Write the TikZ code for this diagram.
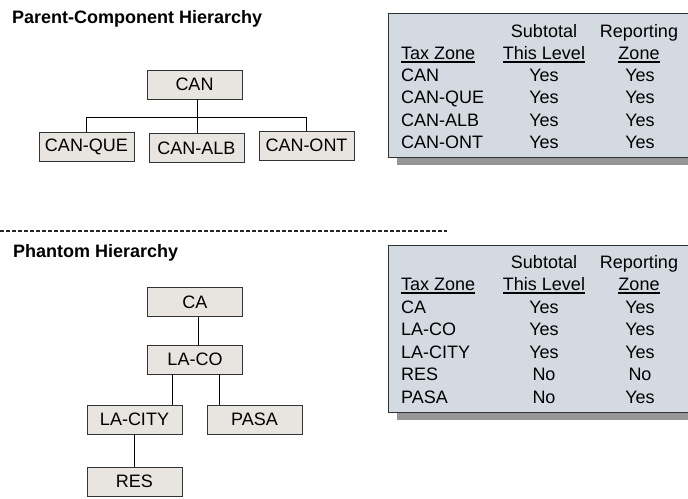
\documentclass[tikz,border=0pt]{standalone}
\usepackage{fontspec}
\setmainfont{Liberation Sans}
\definecolor{boxfill}{RGB}{232,228,223}
\definecolor{tabfill}{RGB}{211,218,226}
\definecolor{shadowgray}{RGB}{150,150,150}
\tikzset{
  zonebox/.style={draw=black!80, line width=0.9pt, fill=boxfill, minimum width=95pt, minimum height=29pt, inner sep=0pt, font=\fontsize{18}{21}\selectfont},
  link/.style={draw=black, line width=0.9pt},
  title/.style={anchor=base west, inner sep=0pt, font=\fontsize{18}{21}\selectfont\bfseries},
  tabtext/.style={inner sep=0pt, font=\fontsize{18}{21}\selectfont},
  tabbox/.style={draw=black!80, line width=0.9pt, fill=tabfill},
  tabshadow/.style={fill=shadowgray},
  ul/.style={line width=1.2pt}
}
\begin{document}
\begin{tikzpicture}[x=1pt,y=-1pt]
\path[use as bounding box] (0,0) rectangle (688,498);
\clip (0,0) rectangle (688,498);
% titles
\node[title] (t1) at (12,23) {Parent-Component Hierarchy};
\node[title] (t2) at (13,257) {Phantom Hierarchy};
% dashed separator
\coordinate (dl) at (0,231);
\coordinate (dr) at (447,231);
\draw[line width=1.2pt, dash pattern=on 4pt off 2pt, black!85] (dl) -- (dr);
% parent-component tree
\node[zonebox] (can) at (194.5,84.5) {CAN};
\node[zonebox] (que) at (86.5,146.5) {CAN-QUE};
\node[zonebox] (alb) at (196.5,148) {CAN-ALB};
\node[zonebox] (ont) at (306.5,145.5) {CAN-ONT};
\coordinate (j) at (197,117);
\draw[link] (can.south -| j) -- (j);
\draw[link] (j) -| (que.north);
\draw[link] (j) -| (ont.north);
\draw[link] (j) -- (j |- alb.north);
% phantom tree
\node[zonebox] (ca) at (195,302) {CA};
\node[zonebox] (laco) at (195,359.5) {LA-CO};
\node[zonebox] (lacity) at (134.5,419.5) {LA-CITY};
\node[zonebox] (pasa) at (254.5,419.5) {PASA};
\node[zonebox] (res) at (134.5,481.5) {RES};
\draw[link] ([xshift=3pt]ca.south) -- ([xshift=3pt]ca.south |- laco.north);
\draw[link] ([xshift=-23pt]laco.south) -- ([xshift=-23pt]laco.south |- lacity.north);
\draw[link] ([xshift=24pt]laco.south) -- ([xshift=24pt]laco.south |- pasa.north);
\draw[link] (lacity.south) -- (res.north);
% table 1
\fill[tabshadow] (397,21) rectangle (700,165);
\draw[tabbox] (388,13) rectangle (700,157);
\node[tabtext, anchor=base] (h1a) at (544,37) {Subtotal};
\node[tabtext, anchor=base] (h1b) at (639,37) {Reporting};
\node[tabtext, anchor=base west] (h1c) at (401,59) {Tax Zone};
\node[tabtext, anchor=base] (h1d) at (544,59) {This Level};
\node[tabtext, anchor=base] (h1e) at (639,59) {Zone};
\draw[ul] (h1c.base west) ++(0,3) -- ([yshift=-3pt]h1c.base east);
\draw[ul] ([yshift=-3pt]h1d.base west) -- ([yshift=-3pt]h1d.base east);
\draw[ul] ([yshift=-3pt]h1e.base west) -- ([yshift=-3pt]h1e.base east);
\foreach \n/\y in {CAN/81, CAN-QUE/103.5, CAN-ALB/126, CAN-ONT/148}{
  \node[tabtext, anchor=base west] at (401,\y) {\n};
  \node[tabtext, anchor=base] at (544,\y) {Yes};
  \node[tabtext, anchor=base] at (640,\y) {Yes};
}
% table 2
\fill[tabshadow] (397,253) rectangle (700,420);
\draw[tabbox] (388,245) rectangle (700,412);
\node[tabtext, anchor=base] (h2a) at (544,268) {Subtotal};
\node[tabtext, anchor=base] (h2b) at (639,268) {Reporting};
\node[tabtext, anchor=base west] (h2c) at (401,290) {Tax Zone};
\node[tabtext, anchor=base] (h2d) at (544,290) {This Level};
\node[tabtext, anchor=base] (h2e) at (639,290) {Zone};
\draw[ul] ([yshift=-3pt]h2c.base west) -- ([yshift=-3pt]h2c.base east);
\draw[ul] ([yshift=-3pt]h2d.base west) -- ([yshift=-3pt]h2d.base east);
\draw[ul] ([yshift=-3pt]h2e.base west) -- ([yshift=-3pt]h2e.base east);
\foreach \n/\a/\b/\y in {CA/Yes/Yes/313, LA-CO/Yes/Yes/335.5, LA-CITY/Yes/Yes/358, RES/No/No/380.5, PASA/No/Yes/403}{
  \node[tabtext, anchor=base west] at (401,\y) {\n};
  \node[tabtext, anchor=base] at (544,\y) {\a};
  \node[tabtext, anchor=base] at (640,\y) {\b};
}
\end{tikzpicture}
\end{document}
